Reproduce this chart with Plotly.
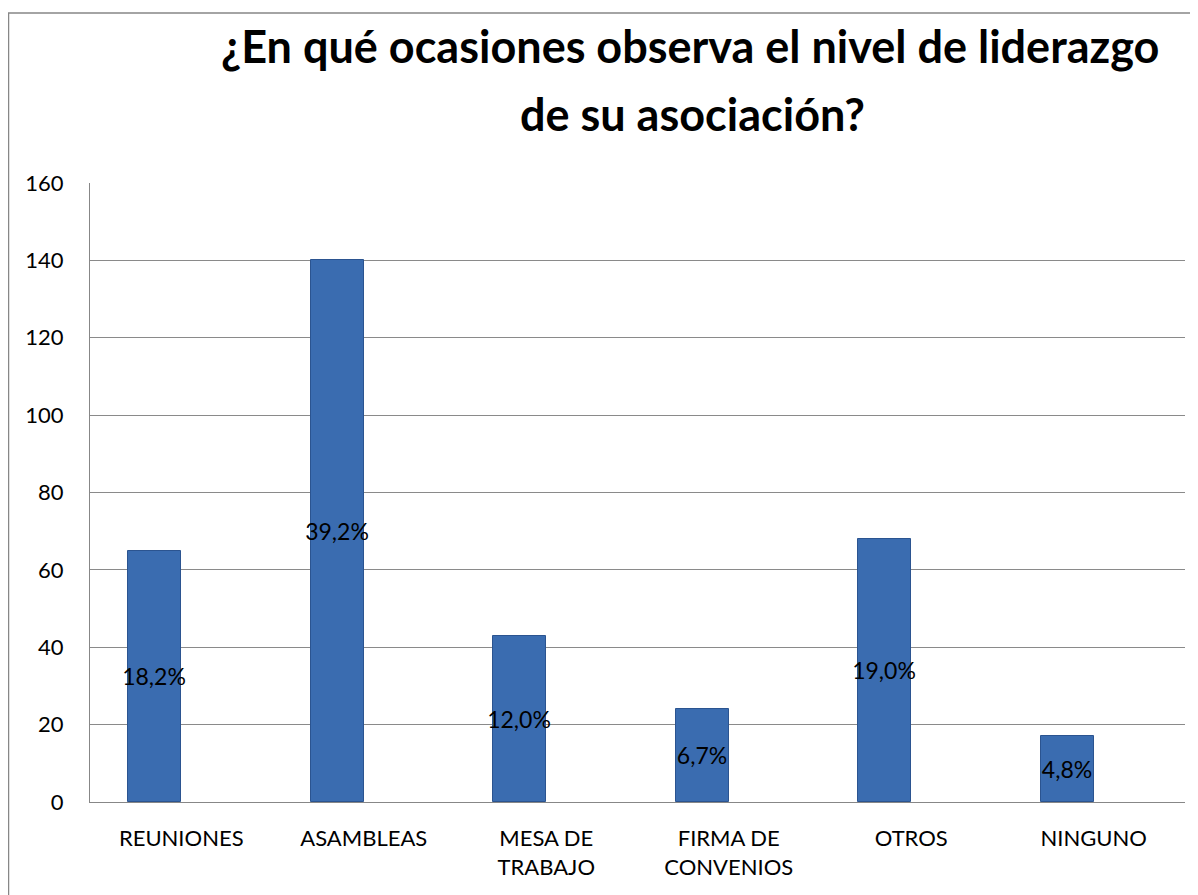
import plotly.graph_objects as go

categories = ["REUNIONES", "ASAMBLEAS", "MESA DE<br>TRABAJO", "FIRMA DE<br>CONVENIOS", "OTROS", "NINGUNO"]
values = [65, 140, 43, 24, 68, 17]
pct_labels = ["18,2%", "39,2%", "12,0%", "6,7%", "19,0%", "4,8%"]
y_ticks = [0, 20, 40, 60, 80, 100, 120, 140, 160]
title_line1 = "¿En qué ocasiones observa el nivel de liderazgo"
title_line2 = "de su asociación?"

FONT = "Lato, Carlito, Calibri, sans-serif"

# page has an 8px body margin, so the figure is sized to fit the window
W, H = 1190, 887
L, R, T, B = 82, 13, 175, 93
pw, ph = W - L - R, H - T - B


def fx(p):
    return (p - L) / pw


def fy(p):
    return (H - B - p) / ph


fig = go.Figure()
fig.add_trace(go.Bar(
    x=categories, y=values, text=pct_labels,
    width=0.29, offset=-0.29,
    marker=dict(color="#3a6cb0", line=dict(color="#2b5490", width=1)),
    textposition="inside", insidetextanchor="middle", constraintext="none",
    textfont=dict(family=FONT, size=23, color="black"),
    textangle=0, cliponaxis=False,
))

fig.add_shape(type="rect", xref="paper", yref="paper",
              x0=fx(0.5), x1=fx(W + 20),
              y0=fy(H + 20), y1=fy(5),
              line=dict(color="#878787", width=1.5), fillcolor="rgba(0,0,0,0)", layer="below")

fig.add_annotation(text="<b>" + title_line1 + "</b>", xref="paper", yref="paper",
                   x=fx(682), y=fy(38), xanchor="center", yanchor="middle", showarrow=False,
                   font=dict(family=FONT, size=45, color="black"))
fig.add_annotation(text="<b>" + title_line2 + "</b>", xref="paper", yref="paper",
                   x=fx(684), y=fy(106), xanchor="center", yanchor="middle", showarrow=False,
                   font=dict(family=FONT, size=45, color="black"))

fig.update_layout(
    width=W, height=H,
    margin=dict(l=L, r=R, t=T, b=B),
    paper_bgcolor="white", plot_bgcolor="white",
    showlegend=False,
    font=dict(family=FONT, size=22, color="black"),
    bargap=0,
)
fig.update_xaxes(showline=True, linecolor="#878787", linewidth=1,
                 showgrid=False, ticks="", ticklabelstandoff=17,
                 tickfont=dict(family=FONT, size=22, color="black"),
                 range=[-0.5, 5.5], tickangle=0)
fig.update_yaxes(range=[0, 160], tickvals=y_ticks, showgrid=True, gridcolor="#8a8a8a", gridwidth=1.2,
                 showline=True, linecolor="#878787", linewidth=1, zeroline=False,
                 ticks="", ticklabelstandoff=21,
                 tickfont=dict(family=FONT, size=22, color="black"))

fig.write_html("out.html")
